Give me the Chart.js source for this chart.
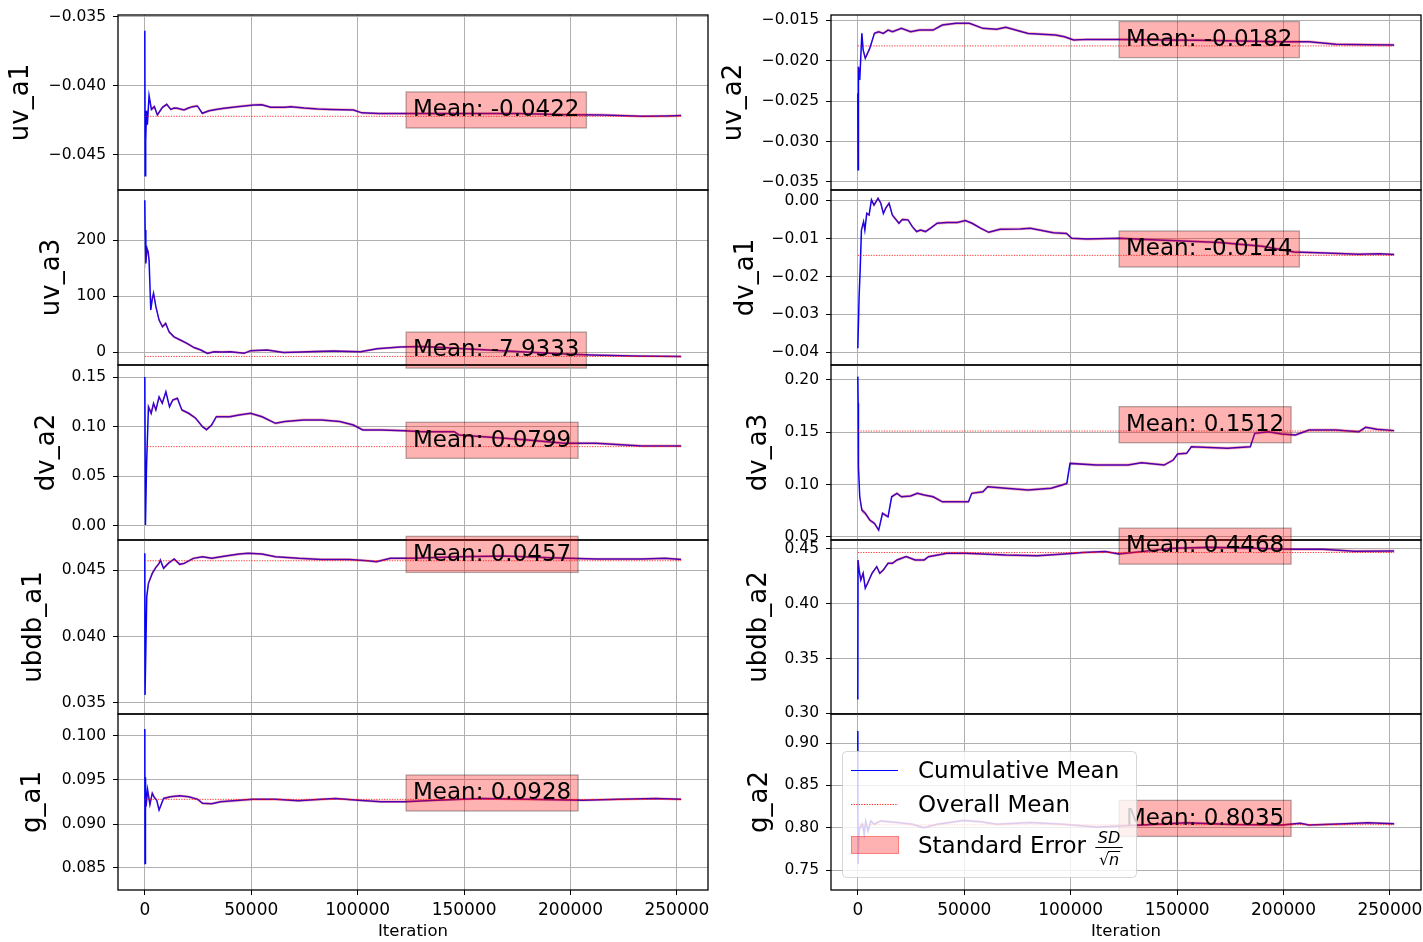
<!DOCTYPE html>
<html><head><meta charset="utf-8">
<script src="https://cdn.jsdelivr.net/npm/chart.js@4.4.0/dist/chart.umd.min.js"></script>
<style>
html,body{margin:0;padding:0;background:#fff;width:1423px;height:942px;overflow:hidden;position:relative}
canvas{position:absolute}
</style></head><body>
<script>
// ---------------- DATA ----------------
const paramNames = ['uv_a1','uv_a3','dv_a2','ubdb_a1','g_a1','uv_a2','dv_a1','dv_a3','ubdb_a2','g_a2'];
const overallMeans = [-0.0422, -7.9333, 0.0799, 0.0457, 0.0928, -0.0182, -0.0144, 0.1512, 0.4468, 0.8035];

const xTickLabels = ['0','50000','100000','150000','200000','250000'];

// uv_a1
const iterUvA1 = [0,150,300,500,800,1200,2000,3100,4500,5900,7200,8300,10300,12200,13800,15300,18400,20500,22400,24700,27000,30200,33500,37200,43500,51300,55000,59100,65800,68500,75000,81000,87200,98000,102000,110000,125000,150000,175000,199000,215000,233600,245000,252000];
const meanUvA1 = [-0.0360,-0.0465,-0.0430,-0.0440,-0.0418,-0.0428,-0.0407,-0.0417,-0.0415,-0.0421,-0.0418,-0.04155,-0.04133,-0.0417,-0.0416,-0.04162,-0.04174,-0.0416,-0.0415,-0.04145,-0.04198,-0.0418,-0.0417,-0.04162,-0.0415,-0.04138,-0.04136,-0.04155,-0.04155,-0.0415,-0.0416,-0.04167,-0.0417,-0.04174,-0.04195,-0.0420,-0.0420,-0.0420,-0.0420,-0.04208,-0.0421,-0.0422,-0.04218,-0.04215];
const seUvA1 = [0.0003,0.0003,0.00025,0.00022,0.0002,0.00018,0.00016,0.00014,0.00013,0.00012,0.00011,0.0001,0.0001,0.0001,0.0001,0.0001,0.0001,0.0001,0.0001,0.0001,0.0001,0.0001,0.0001,0.0001,0.0001,0.0001,0.0001,0.0001,0.0001,0.0001,0.0001,0.0001,0.0001,0.0001,0.0001,0.0001,0.0001,0.0001,0.0001,0.0001,0.0001,0.0001,0.0001,0.0001];
const ticksUvA1 = ['−0.045','−0.040','−0.035'];

// uv_a3
const iterUvA3 = [0,150,470,1000,1550,2000,2800,3500,4100,5200,6700,8300,9800,11400,13700,16900,20000,23100,26300,29400,32500,36000,40300,46600,49700,57500,65200,73200,80000,88600,101300,109100,120000,130000,140000,150000,170000,190000,200000,210000,230000,252000];
const meanUvA3 = [271,218,158,185,179,164,75,95,105,81,57,45,51,36,27,21,15,8,3.6,-2.4,0.6,0,0.6,-2.4,2.4,3.6,-1,0,1,2,0.6,6,9,10,8,6,2,-2,-4,-5.5,-7,-7.9];
const seUvA3 = [12,10,8,7,6,6,5,5,4.5,4,3.5,3.2,3,2.8,2.6,2.4,2.4,2.2,2.2,2.2,2.2,2.2,2.2,2.2,2.2,2.2,2.2,2.2,2.2,2.2,2.2,2.2,2.2,2.2,2.2,2.2,2.2,2.2,2.2,2.2,2.2,2.2];
const ticksUvA3 = ['0','100','200'];

// dv_a2
const iterDvA2 = [0,300,800,1700,3000,4100,5200,6700,8200,9900,11600,13100,15300,17400,20600,23900,27100,29000,31400,33600,39900,44300,49700,55100,61400,65800,74500,83000,91600,98000,102400,111000,121800,130400,145400,147600,169100,179900,197000,212000,233600,252000];
const meanDvA2 = [0.150,0.001,0.060,0.120,0.1135,0.1235,0.1168,0.130,0.1235,0.1352,0.120,0.1268,0.1286,0.1168,0.1135,0.1085,0.100,0.097,0.1017,0.110,0.110,0.1118,0.1135,0.110,0.1034,0.1051,0.1068,0.1068,0.1051,0.1017,0.0967,0.0967,0.096,0.095,0.095,0.0917,0.0883,0.0866,0.0833,0.0833,0.0806,0.0806];
const seDvA2 = [0.008,0.006,0.004,0.003,0.0025,0.0022,0.002,0.0018,0.0016,0.0015,0.0014,0.0014,0.0014,0.0014,0.0014,0.0014,0.0014,0.0014,0.0014,0.0014,0.0014,0.0014,0.0014,0.0014,0.0014,0.0014,0.0014,0.0014,0.0014,0.0014,0.0014,0.0014,0.0014,0.0014,0.0014,0.0014,0.0014,0.0014,0.0014,0.0014,0.0014,0.0014];
const ticksDvA2 = ['0.00','0.05','0.10','0.15'];

// ubdb_a1
const iterUbdbA1 = [0,100,900,1700,3500,5200,6700,7300,8800,11000,13800,16400,18500,22800,27100,31400,37900,44300,48600,55100,61400,72200,83000,96000,104600,108800,115400,126200,147600,169100,190700,212000,233600,244400,252000];
const meanUbdbA1 = [0.04626,0.0356,0.0430,0.0440,0.04475,0.0452,0.0455,0.04575,0.04513,0.0455,0.04583,0.04543,0.0455,0.04588,0.0460,0.04588,0.04605,0.0462,0.04626,0.0462,0.0460,0.04588,0.0458,0.0458,0.0457,0.04563,0.04588,0.04588,0.0460,0.04605,0.04592,0.04583,0.04583,0.04588,0.0458];
const seUbdbA1 = [0.0004,0.0004,0.00025,0.0002,0.00015,0.00013,0.00012,0.00011,0.0001,0.0001,0.0001,0.0001,0.0001,0.0001,0.0001,0.0001,0.0001,0.0001,0.0001,0.0001,0.0001,0.0001,0.0001,0.0001,0.0001,0.0001,0.0001,0.0001,0.0001,0.0001,0.0001,0.0001,0.0001,0.0001,0.0001];
const ticksUbdbA1 = ['0.035','0.040','0.045'];

// g_a1
const iterGA1 = [0,100,300,600,1300,2400,3500,4500,5600,6700,8800,12000,16400,20600,24900,27100,31400,35600,39900,50600,61400,72200,83000,89600,100300,111000,121800,136900,158400,179900,205900,222800,240100,252000];
const meanGA1 = [0.1008,0.0855,0.0953,0.0920,0.0939,0.0922,0.0935,0.0930,0.0927,0.0916,0.0929,0.0931,0.0932,0.0931,0.0928,0.09235,0.0923,0.09254,0.0926,0.0928,0.0928,0.09265,0.0928,0.0929,0.0927,0.09254,0.09254,0.0927,0.0929,0.0928,0.0927,0.0928,0.0929,0.0928];
const seGA1 = [0.0015,0.0015,0.0008,0.0005,0.0004,0.0003,0.00025,0.0002,0.00018,0.00016,0.00015,0.00015,0.00015,0.00015,0.00015,0.00015,0.00015,0.00015,0.00015,0.00015,0.00015,0.00015,0.00015,0.00015,0.00015,0.00015,0.00015,0.00015,0.00015,0.00015,0.00015,0.00015,0.00015,0.00015];
const ticksGA1 = ['0.085','0.090','0.095','0.100'];

// uv_a2
const iterUvA2 = [0,100,300,900,1900,2500,3500,5600,7800,9800,12000,14200,16300,20500,24800,29000,35400,39700,46100,52400,58800,65200,69500,80000,92900,97100,101400,107800,122600,143900,160000,180000,199200,212000,224600,240000,252000];
const meanUvA2 = [-0.02405,-0.0335,-0.02077,-0.0224,-0.01665,-0.0187,-0.01973,-0.0185,-0.01665,-0.01644,-0.01665,-0.01624,-0.01644,-0.01603,-0.01644,-0.01624,-0.01624,-0.01562,-0.01541,-0.01541,-0.01603,-0.01615,-0.0159,-0.01665,-0.01685,-0.01706,-0.01747,-0.01739,-0.01739,-0.01747,-0.0175,-0.0176,-0.01768,-0.01768,-0.0180,-0.01805,-0.01809];
const seUvA2 = [0.0008,0.0008,0.0005,0.0004,0.0003,0.00025,0.0002,0.00018,0.00018,0.00018,0.00018,0.00018,0.00018,0.00018,0.00018,0.00018,0.00018,0.00018,0.00018,0.00018,0.00018,0.00018,0.00018,0.00018,0.00018,0.00018,0.00018,0.00018,0.00018,0.00018,0.00018,0.00018,0.00018,0.00018,0.00018,0.00018,0.00018];
const ticksUvA2 = ['−0.035','−0.030','−0.025','−0.020','−0.015'];

// dv_a1
const iterDvA1 = [0,600,1100,1700,2700,3300,4200,5300,6400,7600,9500,10800,12000,13100,14700,16200,19300,20900,23600,25600,27600,29500,31800,34200,37300,42000,46700,50500,53700,57600,61500,66900,76300,81000,91900,98100,100500,107500,123100,135000,150000,170000,190000,205000,220000,235000,245000,252000];
const meanDvA1 = [-0.0390,-0.02536,-0.01829,-0.00769,-0.00548,-0.00769,-0.00327,-0.00371,0.0003,-0.0011,0.0007,-0.0006,-0.0033,-0.0019,-0.0006,-0.0037,-0.0059,-0.0049,-0.0050,-0.0068,-0.0081,-0.0077,-0.0081,-0.0072,-0.0059,-0.0057,-0.0057,-0.0052,-0.0059,-0.0072,-0.0083,-0.0075,-0.0074,-0.0072,-0.0084,-0.0086,-0.0099,-0.0101,-0.0099,-0.0102,-0.0105,-0.0110,-0.0120,-0.0135,-0.0138,-0.0141,-0.0140,-0.0142];
const seDvA1 = [0.001,0.0008,0.0006,0.0005,0.0004,0.0004,0.00038,0.00038,0.00038,0.00038,0.00038,0.00038,0.00038,0.00038,0.00038,0.00038,0.00038,0.00038,0.00038,0.00038,0.00038,0.00038,0.00038,0.00038,0.00038,0.00038,0.00038,0.00038,0.00038,0.00038,0.00038,0.00038,0.00038,0.00038,0.00038,0.00038,0.00038,0.00038,0.00038,0.00038,0.00038,0.00038,0.00038,0.00038,0.00038,0.00038,0.00038,0.00038];
const ticksDvA1 = ['−0.04','−0.03','−0.02','−0.01','0.00'];

// dv_a3
const iterDvA3 = [0,150,300,900,1900,3500,5600,7800,9800,11600,14200,15900,18400,20500,24800,28000,31200,35400,39700,52000,53500,58800,61000,69500,80000,90800,96000,98200,99700,112100,126900,133300,143900,148200,150200,154500,156700,165200,173600,184400,186500,192800,199200,205600,212000,224600,235400,238600,243800,252000];
const meanDvA3 = [0.2032,0.1777,0.1171,0.0884,0.0757,0.0726,0.0662,0.063,0.0566,0.0726,0.0693,0.0884,0.0917,0.0884,0.0891,0.0917,0.090,0.0884,0.0836,0.0836,0.0917,0.0932,0.098,0.0965,0.0948,0.0965,0.0996,0.1012,0.1203,0.1187,0.1187,0.121,0.1187,0.1235,0.1293,0.1299,0.1362,0.1355,0.1347,0.1362,0.149,0.1506,0.1484,0.1474,0.1522,0.1522,0.1506,0.1548,0.1529,0.1516];
const seDvA3 = [0.006,0.005,0.004,0.003,0.0025,0.002,0.0018,0.0016,0.0015,0.0014,0.0014,0.0014,0.0014,0.0014,0.0014,0.0014,0.0014,0.0014,0.0014,0.0014,0.0014,0.0014,0.0014,0.0014,0.0014,0.0014,0.0014,0.0014,0.0014,0.0014,0.0014,0.0014,0.0014,0.0014,0.0014,0.0014,0.0014,0.0014,0.0014,0.0014,0.0014,0.0014,0.0014,0.0014,0.0014,0.0014,0.0014,0.0014,0.0014,0.0014];
const ticksDvA3 = ['0.05','0.10','0.15','0.20'];

// ubdb_a2
const iterUbdbA2 = [0,100,600,1400,2500,3500,4600,6700,8900,10300,12000,14200,16300,18400,22700,26900,31200,33200,37600,41800,50300,58800,69500,84400,97100,105600,116300,122600,133300,148200,165200,186500,203500,218400,233300,252000];
const meanUbdbA2 = [0.3127,0.440,0.4309,0.4218,0.4279,0.4143,0.4188,0.4279,0.4339,0.4279,0.4309,0.437,0.437,0.440,0.443,0.440,0.440,0.443,0.4445,0.4461,0.4461,0.4455,0.4445,0.4439,0.4455,0.4467,0.4476,0.4455,0.4476,0.4506,0.4515,0.4506,0.4497,0.4497,0.4479,0.4482];
const seUbdbA2 = [0.006,0.004,0.003,0.0025,0.002,0.0018,0.0016,0.0014,0.0013,0.0013,0.0013,0.0013,0.0013,0.0013,0.0013,0.0013,0.0013,0.0013,0.0013,0.0013,0.0013,0.0013,0.0013,0.0013,0.0013,0.0013,0.0013,0.0013,0.0013,0.0013,0.0013,0.0013,0.0013,0.0013,0.0013,0.0013];
const ticksUbdbA2 = ['0.30','0.35','0.40','0.45'];

// g_a2
const iterGA2 = [0,100,600,2200,3000,3700,4800,6100,7600,10800,18600,25600,31000,37300,49800,57600,65400,81000,96600,112200,123100,133300,154500,175800,199200,207800,212000,229000,239600,252000];
const meanGA2 = [0.9142,0.757,0.799,0.804,0.792,0.808,0.796,0.808,0.804,0.808,0.806,0.804,0.800,0.804,0.8086,0.807,0.804,0.806,0.804,0.8007,0.8019,0.8031,0.8058,0.8038,0.8031,0.8051,0.8031,0.8046,0.8058,0.8046];
const seGA2 = [0.012,0.01,0.006,0.004,0.003,0.0028,0.0025,0.0022,0.002,0.0018,0.0016,0.0016,0.0016,0.0016,0.0016,0.0016,0.0016,0.0016,0.0016,0.0016,0.0016,0.0016,0.0016,0.0016,0.0016,0.0016,0.0016,0.0016,0.0016,0.0016];
const ticksGA2 = ['0.75','0.80','0.85','0.90'];

// ---------------- LAYOUT ----------------
const FONT = '"DejaVu Sans"';
Chart.defaults.font.family = FONT;
Chart.defaults.color = '#000';

const panels = [
  {col:0,row:0,iter:iterUvA1,mean:meanUvA1,se:seUvA1,ticks:ticksUvA1,yMin:-0.04754,yMax:-0.03486,tPad:6},
  {col:0,row:1,iter:iterUvA3,mean:meanUvA3,se:seUvA3,ticks:ticksUvA3,yMin:-23.2,yMax:289.3,tPad:37},
  {col:0,row:2,iter:iterDvA2,mean:meanDvA2,se:seDvA2,ticks:ticksDvA2,yMin:-0.0141,yMax:0.1621,tPad:31.5},
  {col:0,row:3,iter:iterUbdbA1,mean:meanUbdbA1,se:seUbdbA1,ticks:ticksUbdbA1,yMin:0.03417,yMax:0.04726,tPad:19},
  {col:0,row:4,iter:iterGA1,mean:meanGA1,se:seGA1,ticks:ticksGA1,yMin:0.0825,yMax:0.1025,tPad:18},
  {col:1,row:0,iter:iterUvA2,mean:meanUvA2,se:seUvA2,ticks:ticksUvA2,yMin:-0.03599,yMax:-0.01438,tPad:6.5},
  {col:1,row:1,iter:iterDvA1,mean:meanDvA1,se:seDvA1,ticks:ticksDvA1,yMin:-0.04344,yMax:0.00291,tPad:19},
  {col:1,row:2,iter:iterDvA3,mean:meanDvA3,se:seDvA3,ticks:ticksDvA3,yMin:0.0471,yMax:0.2143,tPad:32},
  {col:1,row:3,iter:iterUbdbA2,mean:meanUbdbA2,se:seUbdbA2,ticks:ticksUbdbA2,yMin:0.2995,yMax:0.4582,tPad:31.5},
  {col:1,row:4,iter:iterGA2,mean:meanGA2,se:seGA2,ticks:ticksGA2,yMin:0.7264,yMax:0.9343,tPad:32.5,legend:true}
];

const colLeft = [0, 712], colWidth = [716, 711], yAxisW = [118, 119], padRight = [8, 2];
const rowTop = [15,190,365,540,714], rowBottom = [190,365,540,714,890];
const MARGIN = 25, PAGE_H = 942;

const toNum = s => parseFloat(s.replace('−','-'));

const framePlugin = {
  id: 'frame',
  afterDatasetsDraw(chart, args, o) {
    const {ctx, chartArea: a} = chart;
    ctx.save();
    ctx.strokeStyle = '#000'; ctx.lineWidth = 1.3;
    ctx.strokeRect(a.left, a.top, a.right - a.left, a.bottom - a.top);
    // mean annotation
    const px = chart.scales.x.getPixelForValue(o.x);
    const py = chart.scales.y.getPixelForValue(o.mean);
    const fs = 23, pad = 6.9;
    ctx.font = fs + 'px ' + FONT;
    const text = 'Mean: ' + o.mean.toFixed(4);
    const w = ctx.measureText(text).width;
    const top = py - 0.76*fs - pad, bot = py + 0.208*fs + pad;
    ctx.fillStyle = 'rgba(255,0,0,0.3)';
    ctx.fillRect(px - pad, top, w + 2*pad, bot - top);
    ctx.strokeStyle = 'rgba(0,0,0,0.3)'; ctx.lineWidth = 1.3;
    ctx.strokeRect(px - pad, top, w + 2*pad, bot - top);
    ctx.fillStyle = '#000'; ctx.textBaseline = 'alphabetic'; ctx.textAlign = 'left';
    ctx.fillText(text, px, py);
    ctx.restore();
  }
};

function rrect(ctx, x, y, w, h, r) {
  ctx.beginPath();
  ctx.moveTo(x + r, y);
  ctx.arcTo(x + w, y, x + w, y + h, r);
  ctx.arcTo(x + w, y + h, x, y + h, r);
  ctx.arcTo(x, y + h, x, y, r);
  ctx.arcTo(x, y, x + w, y, r);
  ctx.closePath();
}

const legendPlugin = {
  id: 'seLegend',
  afterDraw(chart, args, o) {
    if (!o || !o.show) return;
    const {ctx, chartArea: a} = chart;
    const ds = chart.data.datasets;
    const L = a.left + 11, T = a.top + 37, W = 294, H = 126;
    ctx.save();
    rrect(ctx, L + 0.5, T + 0.5, W, H, 4);
    ctx.fillStyle = 'rgba(255,255,255,0.8)'; ctx.fill();
    ctx.strokeStyle = 'rgba(204,204,204,0.8)'; ctx.lineWidth = 1; ctx.stroke();
    const tx = L + 76;
    ctx.font = '23px ' + FONT; ctx.textBaseline = 'middle'; ctx.textAlign = 'left';
    // cumulative mean
    ctx.beginPath(); ctx.moveTo(L + 9, T + 19.5); ctx.lineTo(L + 56, T + 19.5);
    ctx.strokeStyle = ds[3].borderColor; ctx.lineWidth = 1; ctx.stroke();
    ctx.fillStyle = '#000'; ctx.fillText(ds[3].label, tx, T + 21);
    // overall mean
    ctx.beginPath(); ctx.setLineDash(ds[2].borderDash); ctx.moveTo(L + 9, T + 53.5); ctx.lineTo(L + 56, T + 53.5);
    ctx.strokeStyle = ds[2].borderColor; ctx.lineWidth = 1; ctx.stroke(); ctx.setLineDash([]);
    ctx.fillText(ds[2].label, tx, T + 55);
    // standard error
    ctx.fillStyle = ds[0].backgroundColor; ctx.fillRect(L + 9, T + 85, 48, 18);
    ctx.strokeStyle = ds[0].backgroundColor; ctx.strokeRect(L + 9.5, T + 85.5, 47, 17);
    ctx.fillStyle = '#000';
    const lab = ds[0].label + ' ';
    ctx.fillText(lab, tx, T + 96);
    const fx = tx + ctx.measureText(lab).width + 2;
    const ff = 16;
    ctx.font = 'italic ' + ff + 'px ' + FONT; ctx.textBaseline = 'alphabetic';
    const wSD = ctx.measureText('SD').width;
    ctx.font = ff + 'px ' + FONT;
    const wRad = ctx.measureText('√').width;
    ctx.font = 'italic ' + ff + 'px ' + FONT;
    const wN = ctx.measureText('n').width;
    const fw = Math.max(wSD, wRad + wN) + 5;
    ctx.fillText('SD', fx + (fw - wSD)/2, T + 92);
    ctx.beginPath(); ctx.moveTo(fx, T + 96.5); ctx.lineTo(fx + fw, T + 96.5);
    ctx.strokeStyle = '#000'; ctx.lineWidth = 1; ctx.stroke();
    const rx = fx + (fw - wRad - wN)/2;
    ctx.font = ff + 'px ' + FONT; ctx.fillText('√', rx, T + 114);
    ctx.font = 'italic ' + ff + 'px ' + FONT; ctx.fillText('n', rx + wRad, T + 114);
    ctx.beginPath(); ctx.moveTo(rx + wRad - 1, T + 100.5); ctx.lineTo(rx + wRad + wN + 1, T + 100.5); ctx.stroke();
    ctx.restore();
  }
};

panels.forEach((p, idx) => {
  const isBottom = p.row === 4;
  const top = rowTop[p.row] - MARGIN;
  const h = isBottom ? PAGE_H - top : (rowBottom[p.row] - rowTop[p.row]) + 2*MARGIN;
  const cv = document.createElement('canvas');
  cv.width = colWidth[p.col]; cv.height = h;
  cv.style.left = colLeft[p.col] + 'px'; cv.style.top = top + 'px';
  cv.style.width = colWidth[p.col] + 'px'; cv.style.height = h + 'px';
  document.body.appendChild(cv);

  const last = p.iter[p.iter.length - 1];
  const meanPts = p.iter.map((x, i) => ({x, y: p.mean[i]}));
  const upper = p.iter.map((x, i) => ({x, y: p.mean[i] + p.se[i]}));
  const lower = p.iter.map((x, i) => ({x, y: p.mean[i] - p.se[i]}));
  const overall = overallMeans[idx];
  const yTickVals = p.ticks.map(toNum);
  const xTickVals = xTickLabels.map(toNum);

  new Chart(cv, {
    type: 'line',
    data: { datasets: [
      {label: 'Standard Error', data: upper, borderWidth: 0, pointRadius: 0, fill: '+1', backgroundColor: 'rgba(255,0,0,0.3)', borderColor: 'rgba(0,0,0,0)', order: 0},
      {label: 'SE lower', data: lower, borderWidth: 0, pointRadius: 0, fill: false, borderColor: 'rgba(0,0,0,0)', order: 0},
      {label: 'Overall Mean', data: [{x: 0, y: overall}, {x: last, y: overall}], borderColor: 'rgba(255,0,0,0.85)', borderWidth: 0.9, borderDash: [1.3, 1.3], pointRadius: 0, fill: false, order: 1},
      {label: 'Cumulative Mean', data: meanPts, borderColor: '#0000ff', borderWidth: 1.5, pointRadius: 0, fill: false, order: 2}
    ]},
    options: {
      responsive: false, animation: false, devicePixelRatio: 1,
      events: [],
      layout: {padding: {left: 0, right: padRight[p.col], top: MARGIN, bottom: isBottom ? 0 : MARGIN}},
      plugins: {
        legend: {display: false}, tooltip: {enabled: false},
        frame: {x: last / 2, mean: overall},
        seLegend: {show: !!p.legend}
      },
      scales: {
        x: {
          type: 'linear', min: -12600, max: 264600,
          afterBuildTicks: s => { s.ticks = xTickVals.map(v => ({value: v})); },
          afterFit: s => { s.height = isBottom ? 52 : 0; s.paddingLeft = 0; s.paddingRight = 0; },
          grid: {color: '#b0b0b0', lineWidth: 1, drawTicks: isBottom, tickLength: 5, tickColor: '#000'},
          border: {display: false},
          ticks: {display: isBottom, autoSkip: false, maxRotation: 0, padding: 5, font: {size: 17}, color: '#000', callback: (v, i) => xTickLabels[i]},
          title: {display: isBottom, text: 'Iteration', font: {size: 16.5}, color: '#000', padding: {top: 0, bottom: 0}}
        },
        y: {
          type: 'linear', min: p.yMin, max: p.yMax,
          afterBuildTicks: s => { s.ticks = yTickVals.map(v => ({value: v})); },
          afterFit: s => { s.width = yAxisW[p.col]; s.paddingTop = 0; s.paddingBottom = 0; },
          grid: {color: '#b0b0b0', lineWidth: 1, drawTicks: true, tickLength: 5, tickColor: '#000'},
          border: {display: false},
          ticks: {autoSkip: false, padding: 7, font: {size: 15.5}, color: '#000', callback: (v, i) => p.ticks[i]},
          title: {display: true, text: paramNames[idx], font: {size: 26}, color: '#000', padding: {top: p.tPad, bottom: 0}}
        }
      }
    },
    plugins: [framePlugin, legendPlugin]
  });
});
</script>
</body></html>
